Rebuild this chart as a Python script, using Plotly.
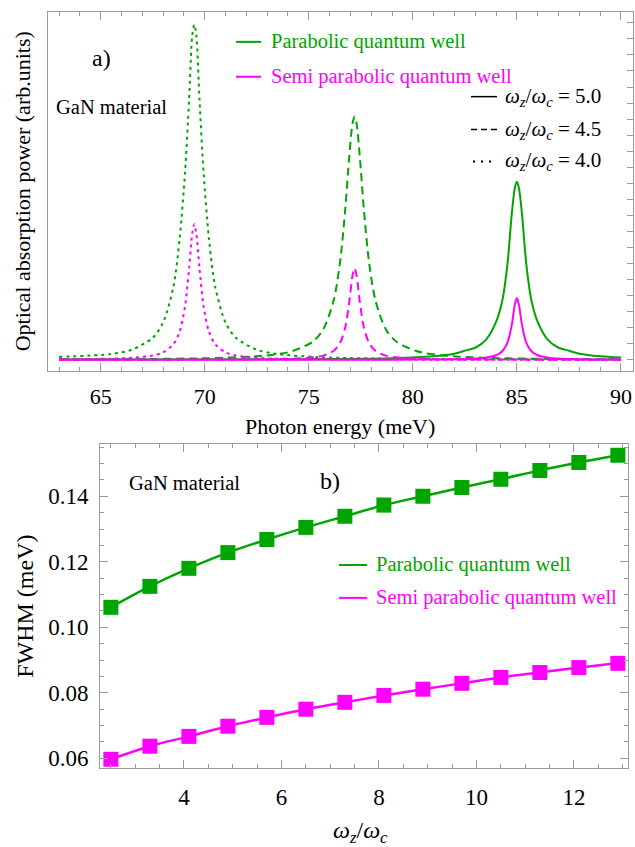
import plotly.graph_objects as go

# ---------------- data: panel a) absorption spectra (arb. units) ----------------
x_par_40 = [63, 65.5, 66.5, 67.5, 68, 68.5, 68.8, 69.05, 69.25, 69.4, 69.5, 69.6, 69.75, 69.95,
            70.2, 70.5, 71, 71.5, 72.5, 73.5, 75.5, 79.5, 85, 90]
y_par_40 = [0.18, 0.36, 0.63, 1.37, 2.32, 4.58, 7.61, 11.6, 16.2, 20.2, 20.9, 20.2, 16.2, 11.6,
            7.61, 4.58, 2.32, 1.37, 0.63, 0.36, 0.16, 0.06, 0.03, 0.014]
x_semi_40 = x_par_40
y_semi_40 = [0.026, 0.068, 0.12, 0.265, 0.46, 0.97, 1.77, 3.30, 5.70, 7.84, 8.45, 7.84, 5.70, 3.30,
             1.77, 0.97, 0.46, 0.265, 0.12, 0.068, 0.03, 0.011, 0.005, 0.003]

x_par_45 = [63, 67.2, 70.2, 72.2, 73.2, 74.2, 75.2, 75.7, 76.2, 76.5, 76.75, 76.95, 77.1, 77.2,
            77.3, 77.45, 77.65, 77.9, 78.2, 78.7, 79.2, 80.2, 81.2, 82.2, 84.2, 87.2, 90]
y_par_45 = [0.024, 0.049, 0.10, 0.195, 0.30, 0.53, 1.14, 1.91, 3.72, 6.04, 9.34, 12.71, 14.71, 15.16,
            14.71, 12.71, 9.34, 6.04, 3.72, 1.91, 1.14, 0.53, 0.30, 0.195, 0.10, 0.049, 0.03]
x_semi_45 = x_par_45
y_semi_45 = [0.003, 0.006, 0.013, 0.025, 0.039, 0.068, 0.15, 0.26, 0.56, 1.04, 2.00, 3.63, 5.23, 5.71,
             5.23, 3.63, 2.00, 1.04, 0.56, 0.26, 0.15, 0.068, 0.039, 0.025, 0.013, 0.006, 0.004]

x_par_50 = [63, 75, 79, 81, 82, 82.6, 83, 83.5, 84, 84.3, 84.55, 84.75, 84.9, 85,
            85.1, 85.25, 85.45, 85.7, 86, 86.5, 87, 87.4, 88, 89, 90]
y_par_50 = [0.01, 0.04, 0.10, 0.22, 0.38, 0.60, 0.75, 1.22, 2.36, 3.7, 6.0, 9.02, 10.7, 11.1,
            10.7, 9.02, 6.0, 3.7, 2.36, 1.22, 0.75, 0.60, 0.38, 0.22, 0.14]
x_semi_50 = x_par_50
y_semi_50 = [0.001, 0.003, 0.008, 0.019, 0.033, 0.052, 0.074, 0.13, 0.28, 0.53, 1.07, 2.14, 3.41, 3.85,
             3.41, 2.14, 1.07, 0.53, 0.28, 0.13, 0.074, 0.052, 0.033, 0.019, 0.012]

# ---------------- data: panel b) FWHM vs omega_z/omega_c ----------------
ratio = [2.5, 3.3, 4.1, 4.9, 5.7, 6.5, 7.3, 8.1, 8.9, 9.7, 10.5, 11.3, 12.1, 12.9]
fwhm_par = [0.1061, 0.1125, 0.1180, 0.1228, 0.1268, 0.1305, 0.1339, 0.1373, 0.1400, 0.1427,
            0.1452, 0.1479, 0.1503, 0.1525]
fwhm_semi = [0.0597, 0.0637, 0.0667, 0.0698, 0.0725, 0.0750, 0.0771, 0.0792, 0.0811, 0.0829,
             0.0847, 0.0862, 0.0877, 0.0890]

x_ticks_a = [65, 70, 75, 80, 85, 90]
x_ticks_b = [4, 6, 8, 10, 12]
y_ticks_b = [0.06, 0.08, 0.10, 0.12, 0.14]
y_tick_text_b = ["0.06", "0.08", "0.10", "0.12", "0.14"]

GREEN = "#00A500"
MAG = "#FF00FF"
FRAME = "#9a9a9a"
FONT = "Liberation Serif"
W, H = 635, 847


def px(x):
    return x / W


def py(y):
    return 1 - y / H


DOT = "3px,4px"
DASH = "8px,5px"

fig = go.Figure()
curves = [
    (x_par_40, y_par_40, GREEN, DOT), (x_par_45, y_par_45, GREEN, DASH), (x_par_50, y_par_50, GREEN, "solid"),
    (x_semi_40, y_semi_40, MAG, DOT), (x_semi_45, y_semi_45, MAG, DASH), (x_semi_50, y_semi_50, MAG, "solid"),
]
for xs, ys, c, d in curves:
    fig.add_trace(go.Scatter(x=xs, y=ys, mode="lines", xaxis="x", yaxis="y",
                             line=dict(color=c, width=2, dash=d, shape="spline", smoothing=0.8),
                             showlegend=False, hoverinfo="skip"))

fig.add_trace(go.Scatter(x=ratio, y=fwhm_par, mode="lines+markers", xaxis="x2", yaxis="y2",
                         line=dict(color=GREEN, width=2.5, shape="spline"),
                         marker=dict(symbol="square", size=15, color=GREEN), showlegend=False))
fig.add_trace(go.Scatter(x=ratio, y=fwhm_semi, mode="lines+markers", xaxis="x2", yaxis="y2",
                         line=dict(color=MAG, width=2.5, shape="spline"),
                         marker=dict(symbol="square", size=15, color=MAG), showlegend=False))

ax_common = dict(showgrid=False, zeroline=False, showline=True, linecolor=FRAME, linewidth=1,
                 ticks="inside", tickcolor=FRAME, tickfont=dict(family=FONT, color="black"))

fig.update_layout(
    width=W, height=H, margin=dict(l=0, r=0, t=0, b=0),
    paper_bgcolor="white", plot_bgcolor="white",
    font=dict(family=FONT, color="black"),
    xaxis=dict(**ax_common, domain=[px(48), px(633)], anchor="y", range=[62.47, 90.58],
               tickvals=x_ticks_a, ticklen=8, mirror="ticks", tickfont_size=22,
               ticklabelstandoff=6,
               minor=dict(dtick=1, tick0=0, ticklen=4, ticks="inside", tickcolor=FRAME)),
    yaxis=dict(**ax_common, domain=[py(372), py(12)], anchor="x", range=[-0.68, 21.68],
               side="right", mirror=True, showticklabels=False, dtick=1, tick0=0, ticklen=6),
    xaxis2=dict(**ax_common, domain=[px(100), px(628)], anchor="y2", range=[2.277, 13.108],
                tickvals=x_ticks_b, ticklen=8, mirror="ticks", tickfont_size=23,
                ticklabelstandoff=8,
                minor=dict(dtick=0.5, tick0=0, ticklen=4, ticks="inside", tickcolor=FRAME)),
    yaxis2=dict(**ax_common, domain=[py(771), py(446)], anchor="x2", range=[0.05696, 0.15583],
                tickvals=y_ticks_b, ticktext=y_tick_text_b, ticklen=8, mirror="ticks", tickfont_size=23,
                ticklabelstandoff=6,
                minor=dict(dtick=0.005, tick0=0, ticklen=4, ticks="inside", tickcolor=FRAME)),
)

ann = []


def text(x, y, s, size, color="black", xanchor="center", angle=0):
    ann.append(dict(x=px(x), y=py(y), xref="paper", yref="paper", text=s, showarrow=False,
                    xanchor=xanchor, yanchor="middle", textangle=angle,
                    font=dict(family=FONT, size=size, color=color)))


shapes = []


def seg(x0, x1, y, color, dash="solid", width=2):
    shapes.append(dict(type="line", xref="paper", yref="paper", x0=px(x0), x1=px(x1), y0=py(y), y1=py(y),
                       line=dict(color=color, width=width, dash=dash)))


# panel a texts
text(101, 58, "a)", 24)
text(111, 107, "GaN material", 20.5)
seg(236, 261, 42, GREEN)
text(269, 42, "Parabolic quantum well", 20.5, GREEN, "left")
seg(236, 261, 77, MAG)
text(269, 77, "Semi parabolic quantum well", 20.5, MAG, "left")
omega = "<i>ω<sub>z</sub></i>/<i>ω<sub>c</sub></i>"
seg(471, 497, 97, "black", "solid", 1.5)
text(503, 97, omega + " = 5.0", 21, "black", "left")
seg(471, 497, 130, "black", "6px,4px", 1.5)
text(503, 130, omega + " = 4.5", 21, "black", "left")
seg(473, 497, 162, "black", "2px,6px", 2)
text(503, 162, omega + " = 4.0", 21, "black", "left")
text(22, 192, "Optical absorption power (arb.units)", 22, angle=-90)
text(340, 428, "Photon energy (meV)", 22)

# panel b texts
text(330, 483, "b)", 24)
text(184, 485, "GaN material", 20.5)
seg(339, 367, 567, GREEN)
text(374, 567, "Parabolic quantum well", 20.5, GREEN, "left")
seg(339, 367, 600, MAG)
text(374, 600, "Semi parabolic quantum well", 20.5, MAG, "left")
text(25, 609, "FWHM (meV)", 24, angle=-90)
text(360, 835, omega, 24)

fig.update_layout(annotations=ann, shapes=shapes)
fig.write_html("out.html", config={"displayModeBar": False},
               post_script="document.body.style.margin='0';document.body.style.overflow='hidden';")
